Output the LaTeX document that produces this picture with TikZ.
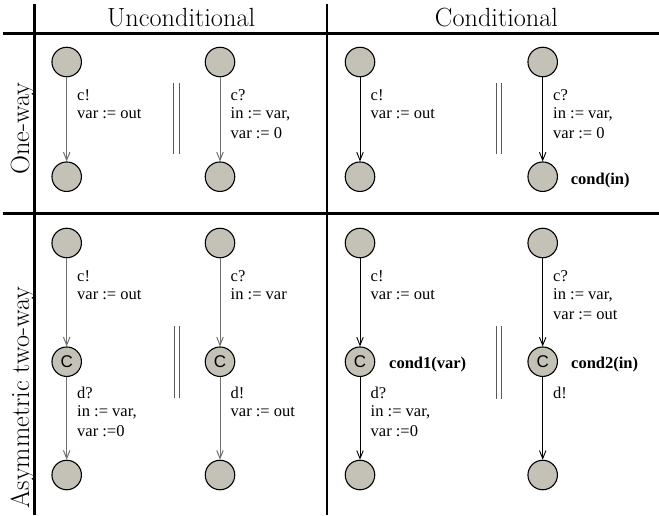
\documentclass[tikz,border=0pt]{standalone}
\usepackage{fontspec}
\usetikzlibrary{arrows.meta}
\newfontfamily\labfont{Liberation Serif}
\newfontfamily\csansfont{Liberation Sans}
\definecolor{locfill}{RGB}{196,194,182}
\definecolor{edgegray}{RGB}{112,112,112}
\definecolor{bargray}{RGB}{90,90,90}
\begin{document}
\begin{tikzpicture}[x=1pt,y=-1pt,
  grid/.style={line width=2.6pt, black},
  loc/.style={circle, draw, line width=1.1pt, fill=locfill, minimum size=29.5pt, inner sep=0pt, font=\csansfont\fontsize{17}{17}\selectfont},
  edgeg/.style={draw=edgegray, line width=1pt, -{Straight Barb[length=8pt,width=6.5pt]}},
  edgek/.style={draw=black, line width=0.9pt, -{Straight Barb[length=8pt,width=6.5pt]}},
  lbl/.style={font=\labfont\fontsize{16.5}{18}\selectfont, align=left, anchor=north west, inner sep=0pt},
  guard/.style={font=\labfont\bfseries\fontsize{16.5}{18}\selectfont, anchor=base west, inner sep=0pt},
  head/.style={font=\fontsize{26.3}{30}\selectfont, anchor=base, inner sep=0pt},
  rowhead/.style={font=\fontsize{26.3}{30}\selectfont, anchor=base, inner sep=0pt, rotate=90},
  par/.style={draw=bargray, line width=0.9pt}
]
\useasboundingbox (0,0) rectangle (659,515);

% grid
\draw[grid] (3,33.5) -- (659,33.5);
\draw[grid] (3,213.5) -- (659,213.5);
\draw[grid] (34.5,4) -- (34.5,515);
\draw[grid] (327,4) -- (327,515);

% headers
\node[head] (hU) at (181.2,26) {Unconditional};
\node[head] (hC) at (496.5,26) {Conditional};
\node[rowhead] (r1) at (29,128.5) {One-way};
\node[rowhead] (r2) at (29,397.5) {Asymmetric two-way};

% ---------- Top-left: unconditional one-way
\node[loc] (a1) at (66.7,62) {};
\node[loc] (a2) at (66.7,176.7) {};
\node[loc] (b1) at (220,62) {};
\node[loc] (b2) at (220,176.7) {};
\draw[edgeg] (a1) -- (a2);
\draw[edgeg] (b1) -- (b2);
\node[lbl] (la) at (77,87.4) {\strut c!\\var := out};
\node[lbl] (lb) at (230.5,87.4) {\strut c?\\in := var,\\[2pt]var := 0};
\draw[par] (173.6,83) -- (173.6,154);
\draw[par] (179.2,83) -- (179.2,154);

% ---------- Top-right: conditional one-way
\node[loc] (c1) at (360,62) {};
\node[loc] (c2) at (360,176.7) {};
\node[loc] (d1) at (542.7,62) {};
\node[loc] (d2) at (542.7,176.7) {};
\draw[edgek] (c1) -- (c2);
\draw[edgek] (d1) -- (d2);
\node[lbl] (lc) at (370.5,87.4) {\strut c!\\var := out};
\node[lbl] (ld) at (553,87.4) {\strut c?\\in := var,\\[2pt]var := 0};
\node[guard] (gd) at (570.7,184) {cond(in)};
\draw[par] (496.8,83) -- (496.8,154);
\draw[par] (501.8,83) -- (501.8,154);

% ---------- Bottom-left: unconditional asymmetric two-way
\node[loc] (e1) at (66.7,243) {};
\node[loc] (e2) at (66.7,361.7) {C};
\node[loc] (e3) at (66.7,475) {};
\node[loc] (f1) at (220,243) {};
\node[loc] (f2) at (220,361.7) {C};
\node[loc] (f3) at (220,475) {};
\draw[edgeg] (e1) -- (e2);
\draw[edgeg] (e2) -- (e3);
\draw[edgeg] (f1) -- (f2);
\draw[edgeg] (f2) -- (f3);
\node[lbl] (le1) at (77,269) {\strut c!\\var := out};
\node[lbl] (le2) at (77,385.6) {\strut d?\\in := var,\\[2pt]var :=0};
\node[lbl] (lf1) at (230.5,269) {\strut c?\\in := var};
\node[lbl] (lf2) at (230.5,385.6) {\strut d!\\var := out};
\draw[par] (174,326) -- (174,398);
\draw[par] (179.4,326) -- (179.4,398);

% ---------- Bottom-right: conditional asymmetric two-way
\node[loc] (g1) at (360,243) {};
\node[loc] (g2) at (360,361.7) {C};
\node[loc] (g3) at (360,475) {};
\node[loc] (h1) at (542.7,243) {};
\node[loc] (h2) at (542.7,361.7) {C};
\node[loc] (h3) at (542.7,475) {};
\draw[edgek] (g1) -- (g2);
\draw[edgek] (g2) -- (g3);
\draw[edgek] (h1) -- (h2);
\draw[edgek] (h2) -- (h3);
\node[lbl] (lg1) at (370.5,269) {\strut c!\\var := out};
\node[lbl] (lg2) at (370.5,385.6) {\strut d?\\in := var,\\[2pt]var :=0};
\node[lbl] (lh1) at (553,269) {\strut c?\\in := var,\\[2pt]var := out};
\node[lbl] (lh2) at (553,385.6) {\strut d!};
\node[guard] (gg) at (389,368.3) {cond1(var)};
\node[guard] (gh) at (571,368.3) {cond2(in)};
\draw[par] (496.8,326) -- (496.8,399);
\draw[par] (501.8,326) -- (501.8,399);
\end{tikzpicture}
\end{document}
